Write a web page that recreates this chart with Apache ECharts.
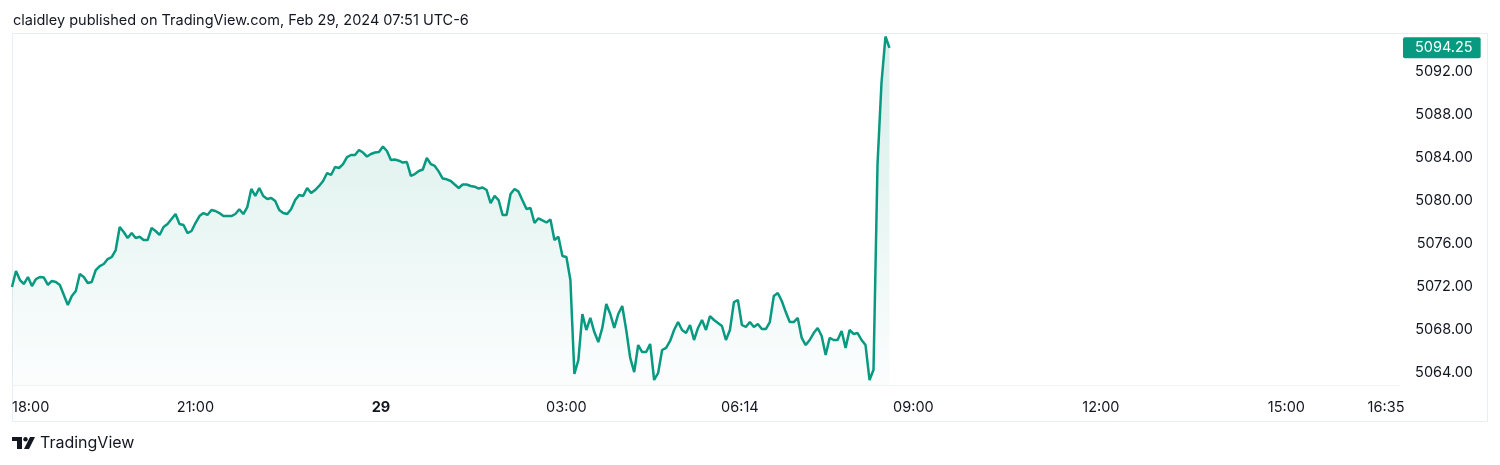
<!DOCTYPE html>
<html>
<head>
<meta charset="utf-8">
<script src="https://cdn.jsdelivr.net/npm/echarts@6/dist/echarts.min.js"></script>
<style>
html,body{margin:0;padding:0;background:#fff;}
#chart{width:1500px;height:465px;}
</style>
</head>
<body>
<div id="chart"></div>
<script>
// ---- data ----
const headerText = 'claidley published on TradingView.com, Feb 29, 2024 07:51 UTC-6';
const brandText = 'TradingView';

// time-axis labels and their positions in bar-index units
const timeLabels = ['18:00', '21:00', '29', '03:00', '06:14', '09:00', '12:00', '15:00', '16:35'];
const timeLabelPos = [0, 46, 92.5, 139, 182.5, 226, 273, 319.5, 344.5];
const boldTimeLabels = ['29'];
const barCountVisible = 348;

// price-axis tick labels
const priceTicks = [5064, 5068, 5072, 5076, 5080, 5084, 5088, 5092];
const priceMin = 5062.884;
const priceMax = 5095.628;

// closing prices, one per bar
const prices = [
  5072.00, 5073.49, 5072.65, 5072.28, 5072.93, 5072.09, 5072.74, 5072.93, 5072.88, 5072.19,
  5072.56, 5072.47, 5072.19, 5071.26, 5070.33, 5071.16, 5071.63, 5073.21, 5072.93, 5072.37,
  5072.47, 5073.58, 5073.95, 5074.14, 5074.60, 5074.79, 5075.44, 5077.58, 5077.12, 5076.56,
  5077.02, 5076.56, 5076.68, 5076.37, 5076.37, 5077.49, 5077.21, 5076.84, 5077.58, 5077.86,
  5078.33, 5078.79, 5077.86, 5077.77, 5077.02, 5077.21, 5077.95, 5078.60, 5078.88, 5078.70,
  5079.16, 5079.07, 5078.88, 5078.60, 5078.60, 5078.60, 5078.79, 5079.23, 5078.79, 5079.44,
  5081.12, 5080.47, 5081.21, 5080.47, 5080.19, 5080.28, 5080.00, 5079.16, 5078.88, 5078.79,
  5079.26, 5080.09, 5080.56, 5080.47, 5081.21, 5080.74, 5081.02, 5081.40, 5081.86, 5082.60,
  5082.42, 5083.16, 5083.07, 5083.44, 5084.09, 5084.28, 5084.28, 5084.74, 5084.51, 5084.14,
  5084.37, 5084.51, 5084.56, 5085.07, 5084.65, 5083.81, 5083.86, 5083.75, 5083.58, 5083.63,
  5082.33, 5082.51, 5082.79, 5082.93, 5084.00, 5083.44, 5083.26, 5082.73, 5082.09, 5082.02,
  5081.86, 5081.53, 5081.21, 5081.53, 5081.53, 5081.40, 5081.33, 5081.16, 5081.26, 5081.02,
  5079.81, 5080.47, 5080.09, 5078.70, 5078.70, 5080.65, 5081.12, 5080.87, 5080.05, 5079.26,
  5079.35, 5077.95, 5078.39, 5078.19, 5078.00, 5078.28, 5076.37, 5076.68, 5074.88, 5074.79,
  5072.65, 5063.91, 5065.21, 5069.49, 5068.00, 5069.12, 5067.81, 5066.88, 5068.19, 5070.42,
  5069.49, 5068.19, 5069.49, 5070.23, 5068.00, 5065.40, 5064.09, 5066.60, 5065.95, 5065.95,
  5066.70, 5063.35, 5064.00, 5066.14, 5066.33, 5066.98, 5068.00, 5068.74, 5068.00, 5067.72,
  5068.47, 5067.07, 5068.19, 5068.93, 5068.00, 5069.30, 5068.93, 5068.65, 5068.37, 5067.07,
  5068.00, 5070.60, 5070.79, 5068.47, 5068.28, 5068.74, 5068.28, 5068.56, 5068.09, 5068.09,
  5068.74, 5071.16, 5071.44, 5070.70, 5069.67, 5068.74, 5068.74, 5069.12, 5067.26, 5066.60,
  5067.07, 5067.72, 5068.19, 5067.44, 5065.67, 5067.26, 5067.07, 5067.07, 5067.91, 5066.33,
  5068.00, 5067.63, 5067.72, 5067.07, 5066.60, 5063.35, 5064.30, 5083.40, 5091.00, 5095.30,
  5094.25
];

// ---- chart ----
const green = '#089981';
const textColor = '#131722';
const uiFont = 'Inter, "Noto Sans", sans-serif';
const lastPrice = prices[prices.length - 1];

const chart = echarts.init(document.getElementById('chart'), null, {renderer: 'canvas'});

chart.setOption({
  animation: false,
  backgroundColor: '#ffffff',
  title: {
    text: headerText,
    left: 8,
    top: 8,
    textStyle: {fontFamily: uiFont, fontSize: 14.5, fontWeight: 'normal', color: textColor}
  },
  grid: {left: 12, right: 100, top: 33, bottom: 80, containLabel: false},
  xAxis: {
    type: 'value',
    min: 0,
    max: barCountVisible,
    axisLine: {show: true, lineStyle: {color: '#f0f3f5', width: 1}},
    axisTick: {show: false},
    splitLine: {show: false},
    axisLabel: {
      customValues: timeLabelPos,
      alignMinLabel: 'left',
      margin: 15,
      color: textColor,
      fontFamily: uiFont,
      fontSize: 14.5,
      formatter: function (v) {
        let idx = 0, best = Infinity;
        timeLabelPos.forEach(function (p, i) { const d = Math.abs(p - v); if (d < best) { best = d; idx = i; } });
        const t = timeLabels[idx];
        return boldTimeLabels.indexOf(t) >= 0 ? '{b|' + t + '}' : t;
      },
      rich: {b: {fontWeight: 'bold', fontFamily: uiFont, fontSize: 14.5, color: textColor}}
    }
  },
  yAxis: {
    type: 'value',
    position: 'right',
    min: priceMin,
    max: priceMax,
    axisLine: {show: false},
    axisTick: {show: false},
    splitLine: {show: false},
    axisLabel: {
      customValues: priceTicks,
      align: 'right',
      margin: 73,
      color: textColor,
      fontFamily: uiFont,
      fontSize: 14.5,
      formatter: function (v) { return v.toFixed(2); }
    }
  },
  series: [{
    type: 'line',
    data: prices.map(function (v, i) { return [i, v]; }),
    showSymbol: false,
    symbol: 'none',
    lineStyle: {color: green, width: 2.5},
    areaStyle: {
      origin: 'start',
      color: new echarts.graphic.LinearGradient(0, 0, 0, 1, [
        {offset: 0, color: 'rgba(8,153,129,0.24)'},
        {offset: 1, color: 'rgba(8,153,129,0.02)'}
      ])
    },
    markLine: {
      silent: true,
      symbol: 'none',
      lineStyle: {color: 'rgba(0,0,0,0)', width: 0, type: 'solid'},
      data: [{yAxis: lastPrice}],
      label: {
        show: true,
        position: 'end',
        distance: 3,
        formatter: function () { return lastPrice.toFixed(2); },
        backgroundColor: green,
        color: '#ffffff',
        fontFamily: uiFont,
        fontSize: 14.5,
        padding: [3, 8, 3, 12],
        borderRadius: 2
      }
    }
  }],
  graphic: [
    {
      type: 'rect',
      silent: true,
      shape: {x: 12.5, y: 33.5, width: 1475, height: 388},
      style: {fill: 'none', stroke: '#e9eef2', lineWidth: 1},
      z: -1
    },
    {
      type: 'group',
      left: 12,
      top: 437,
      children: [
        {type: 'polygon', shape: {points: [[0, 0], [10, 0], [10, 12], [5, 12], [5, 4], [0, 4]]}, style: {fill: textColor}},
        {type: 'circle', shape: {cx: 13.5, cy: 2.2, r: 2.2}, style: {fill: textColor}},
        {type: 'polygon', shape: {points: [[18, 0], [23, 0], [17, 12], [12, 12]]}, style: {fill: textColor}}
      ]
    },
    {
      type: 'text',
      left: 40,
      top: 435,
      style: {text: brandText, fill: textColor, font: '16px ' + uiFont}
    }
  ]
});
</script>
</body>
</html>
